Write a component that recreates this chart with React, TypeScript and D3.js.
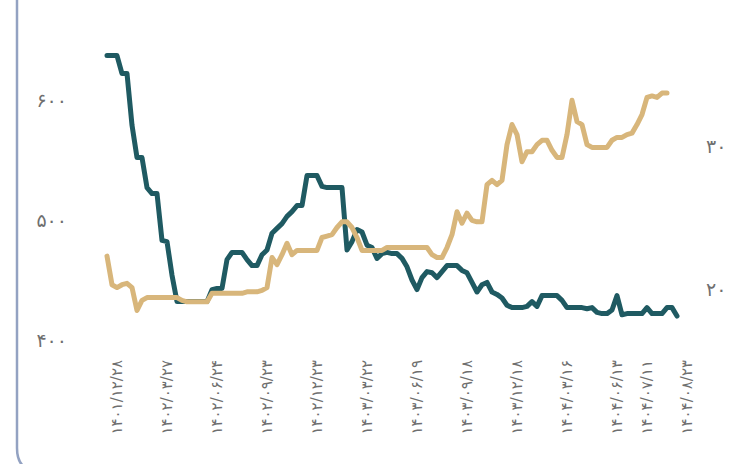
import { useEffect, useRef } from "react";
import * as d3 from "d3";

const WIDTH = 730;
const HEIGHT = 464;

// dark series (left axis) – one value per sampled trading day
const priceSeries: number[] = [
  637, 637, 637, 622, 622, 579, 552, 552, 527, 522,
  522, 483, 482, 454, 432, 432, 432, 432, 432, 432,
  432, 442, 443, 443, 467, 473, 473, 473, 467, 462,
  462, 471, 475, 489, 493, 497, 503, 507, 512, 512,
  537, 537, 537, 528, 527, 527, 527, 527, 475, 482,
  492, 490, 479, 477, 468, 472, 473, 472, 472, 468,
  461, 450, 442, 452, 457, 456, 452, 457, 462, 462,
  462, 458, 456, 448, 440, 446, 448, 440, 438, 435,
  429, 427, 427, 427, 428, 432, 428, 437, 437, 437,
  437, 433, 427, 427, 427, 427, 426, 427, 423, 422,
  422, 425, 437, 421, 422, 422, 422, 422, 427, 422,
  422, 422, 427, 427, 420,
];

// light series (right axis), last days missing
const ratioSeries: (number | null)[] = [
  22.3, 20.3, 20.1, 20.3, 20.4, 20.1, 18.5, 19.2, 19.4, 19.4,
  19.4, 19.4, 19.4, 19.4, 19.4, 19.2, 19.1, 19.1, 19.1, 19.1,
  19.1, 19.7, 19.7, 19.7, 19.7, 19.7, 19.7, 19.7, 19.8, 19.8,
  19.8, 19.9, 20.1, 22.2, 21.7, 22.4, 23.2, 22.4, 22.7, 22.7,
  22.7, 22.7, 22.7, 23.6, 23.7, 23.8, 24.3, 24.7, 24.7, 24.3,
  23.6, 22.7, 22.7, 22.7, 22.7, 22.7, 22.9, 22.9, 22.9, 22.9,
  22.9, 22.9, 22.9, 22.9, 22.9, 22.4, 22.2, 22.2, 22.9, 23.8,
  25.4, 24.6, 25.3, 24.8, 24.7, 24.7, 27.3, 27.6, 27.3, 27.6,
  30.1, 31.5, 30.8, 28.9, 29.6, 29.6, 30.1, 30.4, 30.4, 29.7,
  29.2, 29.2, 30.8, 33.2, 31.7, 31.5, 30.1, 29.9, 29.9, 29.9,
  29.9, 30.4, 30.6, 30.6, 30.8, 30.9, 31.5, 32.2, 33.4, 33.5,
  33.4, 33.7, 33.7, null, null,
];

const xTickLabels = [
  "۱۴۰۱/۱۲/۲۸",
  "۱۴۰۲/۰۳/۲۷",
  "۱۴۰۲/۰۶/۲۴",
  "۱۴۰۲/۰۹/۲۳",
  "۱۴۰۲/۱۲/۲۳",
  "۱۴۰۳/۰۳/۲۲",
  "۱۴۰۳/۰۶/۱۹",
  "۱۴۰۳/۰۹/۱۸",
  "۱۴۰۳/۱۲/۱۸",
  "۱۴۰۴/۰۳/۱۶",
  "۱۴۰۴/۰۶/۱۳",
  "۱۴۰۴/۰۷/۱۱",
  "۱۴۰۴/۰۸/۲۳",
];
const xTickIndex = [0, 10, 20, 30, 40, 50, 60, 70, 80, 90, 100, 106, 114];

const leftTicks = [400, 500, 600];
const rightTicks = [20, 30];

const toFa = (n: number) =>
  String(n).replace(/\d/g, (d) => "۰۱۲۳۴۵۶۷۸۹"[+d]);

const FONT = "'DejaVu Sans', sans-serif";

export default function App() {
  const svgRef = useRef<SVGSVGElement>(null);

  useEffect(() => {
    if (!svgRef.current) return;
    const svg = d3.select(svgRef.current);
    svg.selectAll("*").remove();

    const x = d3
      .scaleLinear()
      .domain([0, priceSeries.length - 1])
      .range([107, 677]);
    const yLeft = d3.scaleLinear().domain([400, 600]).range([340, 100]);
    const yRight = d3.scaleLinear().domain([20, 30]).range([289, 146]);

    // card border (left edge with rounded corner)
    svg
      .append("path")
      .attr("d", "M17,-4 V448 Q17,472 41,472")
      .attr("fill", "none")
      .attr("stroke", "#93a2c2")
      .attr("stroke-width", 2.5);

    // left axis labels
    svg
      .append("g")
      .selectAll("text")
      .data(leftTicks)
      .join("text")
      .attr("x", 67)
      .attr("y", (d) => yLeft(d))
      .attr("dy", "0.35em")
      .attr("text-anchor", "end")
      .attr("fill", "#6f6f6f")
      .attr("font-family", FONT)
      .attr("font-size", 19)
      .text((d) => toFa(d));

    // right axis labels
    svg
      .append("g")
      .selectAll("text")
      .data(rightTicks)
      .join("text")
      .attr("x", 706)
      .attr("y", (d) => yRight(d))
      .attr("dy", "0.35em")
      .attr("text-anchor", "start")
      .attr("fill", "#6f6f6f")
      .attr("font-family", FONT)
      .attr("font-size", 19)
      .text((d) => toFa(d));

    // x axis labels, rotated
    svg
      .append("g")
      .selectAll("text")
      .data(xTickIndex)
      .join("text")
      .attr("transform", (d) => `translate(${x(d)},360) rotate(-90)`)
      .attr("dy", 15)
      .attr("text-anchor", "end")
      .attr("fill", "#6f6f6f")
      .attr("font-family", FONT)
      .attr("font-size", 15)
      .text((_, i) => xTickLabels[i]);

    // dark line
    const priceLine = d3
      .line<number>()
      .x((_, i) => x(i))
      .y((d) => yLeft(d));

    svg
      .append("path")
      .datum(priceSeries)
      .attr("d", priceLine)
      .attr("fill", "none")
      .attr("stroke", "#1f5a62")
      .attr("stroke-width", 5)
      .attr("stroke-linejoin", "round")
      .attr("stroke-linecap", "round");

    // light line
    const ratioLine = d3
      .line<number | null>()
      .defined((d) => d !== null)
      .x((_, i) => x(i))
      .y((d) => yRight(d as number));

    svg
      .append("path")
      .datum(ratioSeries)
      .attr("d", ratioLine)
      .attr("fill", "none")
      .attr("stroke", "#d8b67b")
      .attr("stroke-width", 5)
      .attr("stroke-linejoin", "round")
      .attr("stroke-linecap", "round");
  }, []);

  return (
    <svg
      ref={svgRef}
      width={WIDTH}
      height={HEIGHT}
      style={{ position: "absolute", left: 0, top: 0, background: "#fff" }}
    />
  );
}
